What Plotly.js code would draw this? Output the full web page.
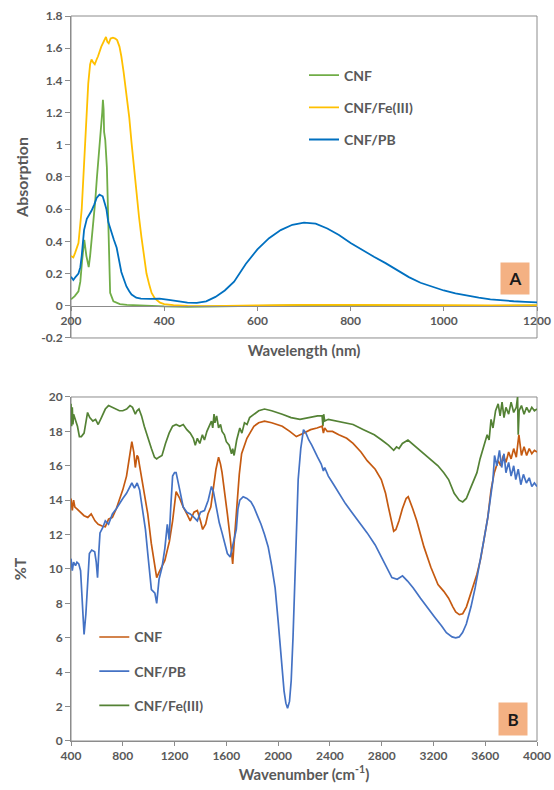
<!DOCTYPE html>
<html>
<head>
<meta charset="utf-8">
<script src="https://cdn.plot.ly/plotly-3.0.1.min.js"></script>
<style>html,body{margin:0;padding:0;background:#fff;}#chart{width:554px;height:790px;}</style>
</head>
<body>
<div id="chart"></div>
<script>
// ---------- Panel A: UV-Vis absorption ----------
const uvCnfX = [200,208,216,220,223.5,228.5,233,238,241,245,248.5,252,255.7,259,262.8,265,267,268.5,270,271,273.5,277,280.6,284,291,305,320,350,400,450,500,600,700,800,900,1000,1100,1200];
const uvCnfY = [0.04,0.06,0.09,0.15,0.27,0.41,0.31,0.24,0.31,0.42,0.51,0.65,0.80,0.92,1.01,1.12,1.20,1.28,1.22,1.08,1.03,0.86,0.39,0.08,0.027,0.01,0.005,0.0,-0.004,-0.006,-0.005,0.0,0.004,0.003,0.0,-0.002,0.0,0.002];

const uvFeX = [200,205,209,216,223,230,237,241,244,248,251,255,258,265,272,275,278,281,285,290,295,299,304,308,313,319,325,330,335,340,346,351,357,362,368,373,380,391,400,420,450,500,600,700,800,900,1000,1100,1200];
const uvFeY = [0.31,0.30,0.33,0.39,0.60,1.01,1.38,1.50,1.53,1.51,1.50,1.53,1.55,1.61,1.66,1.67,1.64,1.63,1.66,1.665,1.66,1.65,1.61,1.55,1.45,1.32,1.17,1.01,0.86,0.70,0.55,0.43,0.30,0.20,0.13,0.08,0.045,0.019,0.01,0.004,0.0,-0.002,0.002,0.006,0.005,0.003,0.002,0.002,0.003];

const uvPbX = [200,205,210,216,220,223,228,234,240,244,250,255,261,268,273,276,280,287,292,298,303,308,314,319,325,330,340,350,370,390,410,430,450,470,490,510,530,550,575,600,625,650,675,700,725,750,775,800,825,850,875,900,925,950,975,1000,1025,1050,1075,1100,1125,1150,1175,1200];
const uvPbY = [0.18,0.16,0.18,0.20,0.24,0.31,0.47,0.54,0.57,0.59,0.63,0.67,0.69,0.68,0.63,0.60,0.52,0.45,0.41,0.36,0.29,0.21,0.16,0.12,0.09,0.07,0.05,0.044,0.043,0.044,0.037,0.028,0.02,0.018,0.028,0.055,0.095,0.15,0.26,0.35,0.42,0.47,0.503,0.517,0.51,0.48,0.44,0.39,0.345,0.305,0.265,0.22,0.178,0.143,0.117,0.095,0.077,0.062,0.05,0.04,0.033,0.028,0.024,0.021];

const uvYTickVals = [-0.2,0,0.2,0.4,0.6,0.8,1,1.2,1.4,1.6,1.8];
const uvYTickText = ["-0.2","0","0.2","0.4","0.6","0.8","1","1.2","1.4","1.6","1.8"];
const uvXTickVals = [200,400,600,800,1000,1200];

// ---------- Panel B: FTIR %T ----------
const irCnfX = [400,410,420,430,446,470,501,530,556,585,610,640,665,690,720,750,774,800,829,850,870,885,897,910,919,930,939,965,993,1020,1048,1062,1080,1103,1125,1144,1160,1185,1212,1240,1267,1295,1321,1350,1376,1400,1417,1440,1458,1480,1499,1520,1540,1555,1567,1590,1608,1630,1649,1660,1677,1700,1718,1740,1759,1790,1813,1850,1895,1950,2032,2090,2141,2200,2251,2300,2340,2350,2360,2380,2420,2469,2530,2579,2640,2688,2750,2797,2830,2852,2875,2893,2910,2934,2960,2989,3005,3016,3040,3071,3100,3126,3180,3235,3280,3317,3350,3372,3400,3426,3455,3481,3510,3536,3565,3590,3620,3645,3670,3700,3720,3740,3760,3781,3800,3820,3840,3860,3880,3900,3920,3940,3960,3980,4000];
const irCnfY = [14.1,13.4,14.0,13.6,13.5,13.3,13.1,13.0,13.2,12.8,12.6,12.5,12.45,12.9,13.0,13.5,14.0,14.6,15.4,16.5,17.4,16.8,15.9,16.6,16.5,16.0,15.6,14.5,13.2,11.5,10.3,9.5,9.8,10.2,10.5,11.1,11.6,12.8,14.5,14.1,13.6,13.2,12.8,13.3,13.4,12.8,12.3,12.6,13.2,13.6,14.6,15.8,16.5,16.1,15.6,14.4,13.2,11.8,10.3,11.5,13.2,15.5,16.7,17.2,17.6,18.0,18.3,18.5,18.6,18.5,18.3,18.0,17.7,17.9,18.1,18.2,18.3,17.9,18.2,18.0,18.0,17.8,17.6,17.3,16.8,16.3,15.8,15.2,14.4,13.6,12.8,12.2,12.3,12.8,13.5,14.1,14.2,14.0,13.5,12.8,12.0,11.3,10.1,9.1,8.7,8.3,7.8,7.5,7.35,7.4,7.8,8.4,9.0,9.7,10.6,11.7,13.0,14.6,15.6,16.3,16.0,16.6,16.2,16.8,16.4,17.0,16.5,17.8,16.6,17.1,16.6,17.0,16.7,16.9,16.8];

const irPbX = [400,410,420,435,446,460,474,488,501,515,530,542,560,583,595,605,615,624,645,665,690,720,750,774,800,829,850,870,890,911,930,952,975,993,1010,1021,1035,1048,1062,1080,1103,1125,1144,1158,1170,1185,1200,1212,1240,1267,1295,1321,1350,1376,1400,1431,1460,1485,1500,1526,1545,1567,1590,1608,1630,1649,1677,1690,1704,1730,1759,1790,1813,1840,1868,1895,1923,1950,1977,2000,2018,2035,2046,2060,2073,2088,2101,2115,2128,2142,2155,2175,2196,2215,2237,2260,2278,2305,2333,2350,2360,2388,2430,2469,2520,2579,2640,2688,2750,2797,2840,2879,2920,2961,3000,3044,3100,3153,3210,3262,3300,3344,3372,3399,3425,3454,3490,3522,3555,3590,3620,3645,3660,3672,3690,3710,3727,3745,3760,3781,3800,3820,3836,3855,3875,3895,3918,3940,3960,3980,4000];
const irPbY = [10.6,9.9,10.4,10.2,10.4,10.3,9.9,8.0,6.2,7.4,9.5,10.9,11.1,11.0,10.4,9.5,11.0,12.1,12.4,12.8,12.6,13.2,13.5,13.8,14.1,14.4,14.7,15.0,14.7,15.0,14.6,13.6,12.3,10.9,9.5,8.8,8.7,8.6,8.0,9.4,10.1,11.2,12.6,11.7,13.5,15.4,15.6,15.6,14.6,13.6,13.3,13.2,13.0,12.8,13.3,13.4,14.0,14.8,14.5,13.4,12.7,12.1,11.5,10.9,10.7,11.3,12.3,13.5,14.0,14.2,14.1,13.9,13.6,13.1,12.6,12.0,11.3,10.2,8.9,7.0,5.4,3.8,2.9,2.2,1.9,2.3,3.5,6.0,9.3,12.5,15.2,17.0,18.1,17.9,17.5,17.2,16.9,16.5,16.1,15.7,15.9,15.4,14.9,14.4,13.8,13.2,12.6,12.1,11.4,10.7,10.0,9.5,9.4,9.6,9.3,8.9,8.3,7.8,7.2,6.7,6.3,6.05,6.0,6.05,6.3,6.8,7.8,8.9,10.2,11.7,13.0,14.4,15.2,16.6,16.0,16.9,15.9,16.7,15.6,16.2,15.4,16.0,15.2,15.8,14.9,15.5,15.0,15.3,14.8,15.0,14.8];

const irFeX = [400,405,410,415,420,433,450,465,480,501,515,528,545,569,590,610,635,665,690,720,750,774,800,830,856,875,897,910,925,945,966,990,1021,1045,1062,1080,1103,1130,1158,1185,1212,1240,1267,1295,1321,1345,1360,1376,1395,1415,1431,1450,1470,1485,1495,1505,1512,1525,1540,1555,1567,1585,1600,1622,1640,1649,1660,1680,1704,1720,1740,1760,1780,1813,1850,1895,1950,2032,2100,2169,2240,2305,2340,2346,2352,2360,2388,2450,2520,2579,2660,2743,2800,2852,2893,2915,2934,2960,3003,3050,3126,3180,3235,3280,3317,3360,3399,3426,3454,3481,3510,3536,3560,3590,3615,3630,3645,3660,3680,3700,3715,3730,3745,3760,3781,3800,3820,3840,3850,3855,3862,3880,3900,3920,3940,3960,3980,4000];
const irFeY = [19.6,18.3,19.4,18.4,19.0,18.7,18.3,17.7,17.7,17.9,18.6,19.1,18.8,18.6,18.7,18.4,18.8,19.3,19.5,19.4,19.3,19.2,19.2,19.3,19.5,19.4,19.0,19.2,19.3,18.9,18.3,17.7,17.0,16.5,16.4,16.5,16.6,17.3,17.9,18.3,18.4,18.3,18.4,18.1,17.9,17.6,17.2,17.6,17.3,17.8,17.5,18.0,18.3,18.6,18.2,19.0,18.5,18.9,18.2,18.4,18.0,17.8,17.4,17.2,16.7,17.0,16.6,17.5,18.2,17.9,18.5,18.4,18.8,19.0,19.2,19.3,19.2,19.0,18.8,18.7,18.8,18.9,18.9,18.3,19.0,18.6,18.7,18.6,18.5,18.4,18.1,17.8,17.5,17.2,16.9,17.1,17.0,17.3,17.5,17.2,16.7,16.4,16.0,15.6,15.2,14.4,14.0,13.9,14.1,14.6,15.1,15.6,16.4,17.1,17.8,17.5,18.7,18.2,19.2,19.6,18.9,19.7,18.8,19.4,19.0,19.7,19.1,19.4,20.0,17.8,19.2,19.5,19.0,19.4,19.1,19.4,19.2,19.3];

const irXTickVals = [400,800,1200,1600,2000,2400,2800,3200,3600,4000];
const irYTickVals = [0,2,4,6,8,10,12,14,16,18,20];

// ---------- layout helpers ----------
const FONT = "Lato, 'Open Sans', sans-serif";
const GREY = "#595959";
const AX = "#8c8c8c";
const topDom = [0.5559, 1];
const botDom = [0, 0.4745];
const zeroPos = topDom[0] + (0 - (-0.2)) / 2.0 * (topDom[1] - topDom[0]);

const lw = 1.8;
const lw2 = 1.7;
const traces = [
  {x: uvCnfX, y: uvCnfY, name: "CNF", type: "scatter", mode: "lines", line: {color: "#70AD47", width: lw}, xaxis: "x", yaxis: "y", legend: "legend", legendgroup: "a1"},
  {x: uvFeX, y: uvFeY, name: "CNF/Fe(III)", type: "scatter", mode: "lines", line: {color: "#FFC000", width: lw}, xaxis: "x", yaxis: "y", legend: "legend", legendgroup: "a2"},
  {x: uvPbX, y: uvPbY, name: "CNF/PB", type: "scatter", mode: "lines", line: {color: "#0070C0", width: lw}, xaxis: "x", yaxis: "y", legend: "legend", legendgroup: "a3"},
  {x: irFeX, y: irFeY, name: "CNF/Fe(III)", type: "scatter", mode: "lines", line: {color: "#548235", width: lw2}, xaxis: "x2", yaxis: "y2", legend: "legend2", legendgroup: "b3", legendrank: 3},
  {x: irCnfX, y: irCnfY, name: "CNF", type: "scatter", mode: "lines", line: {color: "#C55A11", width: lw2}, xaxis: "x2", yaxis: "y2", legend: "legend2", legendgroup: "b1", legendrank: 1},
  {x: irPbX, y: irPbY, name: "CNF/PB", type: "scatter", mode: "lines", line: {color: "#4472C4", width: lw2}, xaxis: "x2", yaxis: "y2", legend: "legend2", legendgroup: "b2", legendrank: 2}
];

const tickFont = {family: FONT, size: 12, color: GREY, weight: "bold"};
const titleFont = {family: FONT, size: 15, color: GREY, weight: "bold"};
const legFont = {family: FONT, size: 14, color: GREY, weight: "bold"};

const layout = {
  width: 554, height: 790,
  margin: {l: 71, r: 17, t: 16, b: 49},
  paper_bgcolor: "#fff", plot_bgcolor: "#fff",
  font: {family: FONT, color: GREY},
  xaxis: {
    domain: [0, 1], range: [200, 1200], anchor: "free", position: zeroPos,
    tickvals: uvXTickVals, ticks: "outside", ticklen: 4, tickcolor: AX,
    showline: true, linecolor: AX, linewidth: 1, showgrid: false, zeroline: false,
    tickfont: tickFont,
    title: {text: "Wavelength (nm)", font: titleFont, standoff: 18}
  },
  yaxis: {
    domain: topDom, range: [-0.2, 1.8], anchor: "x",
    tickvals: uvYTickVals, ticktext: uvYTickText, ticks: "outside", ticklen: 5, tickcolor: AX,
    showline: true, linecolor: AX, linewidth: 1, showgrid: false, zeroline: false,
    tickfont: tickFont,
    title: {text: "Absorption", font: {family: FONT, size: 16, color: GREY, weight: "bold"}, standoff: 8}
  },
  xaxis2: {
    domain: [0, 1], range: [400, 4000], anchor: "y2",
    tickvals: irXTickVals, ticks: "outside", ticklen: 4, tickcolor: AX,
    showline: true, linecolor: AX, linewidth: 1, showgrid: false, zeroline: false,
    tickfont: tickFont,
    title: {text: "Wavenumber (cm<sup>-1</sup>)", font: titleFont, standoff: 6}
  },
  yaxis2: {
    domain: botDom, range: [0, 20], anchor: "x2",
    tickvals: irYTickVals, ticks: "outside", ticklen: 5, tickcolor: AX,
    showline: true, linecolor: AX, linewidth: 1, showgrid: false, zeroline: false,
    tickfont: tickFont,
    title: {text: "%T", font: {family: FONT, size: 16, color: GREY, weight: "bold"}, standoff: 18}
  },
  showlegend: true,
  legend: {x: 0.5, y: 0.94, xanchor: "left", yanchor: "top", bgcolor: "rgba(0,0,0,0)", font: legFont, tracegroupgap: 11, itemwidth: 30, traceorder: "grouped"},
  legend2: {x: 0.05, y: 0.165, xanchor: "left", yanchor: "top", bgcolor: "rgba(0,0,0,0)", font: legFont, tracegroupgap: 13, itemwidth: 30, traceorder: "grouped"},
  shapes: [
    {type: "rect", xref: "x domain", yref: "y domain", x0: 0, x1: 1, y0: 0, y1: 1, line: {color: AX, width: 1}, fillcolor: "rgba(0,0,0,0)", layer: "below"},
    {type: "rect", xref: "x2 domain", yref: "y2 domain", x0: 0, x1: 1, y0: 0, y1: 1, line: {color: AX, width: 1}, fillcolor: "rgba(0,0,0,0)", layer: "below"}
  ],
  annotations: [
    {xref: "x", yref: "y", x: 1152, y: 0.17, text: "<b>A</b>", showarrow: false, bgcolor: "#F4B183", width: 26, height: 29, font: {family: FONT, size: 17, color: "#1a1a1a"}},
    {xref: "x2", yref: "y2", x: 3815, y: 1.28, text: "<b>B</b>", showarrow: false, bgcolor: "#F4B183", width: 26, height: 30, font: {family: FONT, size: 17, color: "#1a1a1a"}}
  ]
};

Plotly.newPlot("chart", traces, layout, {displayModeBar: false, staticPlot: true});
</script>
</body>
</html>
